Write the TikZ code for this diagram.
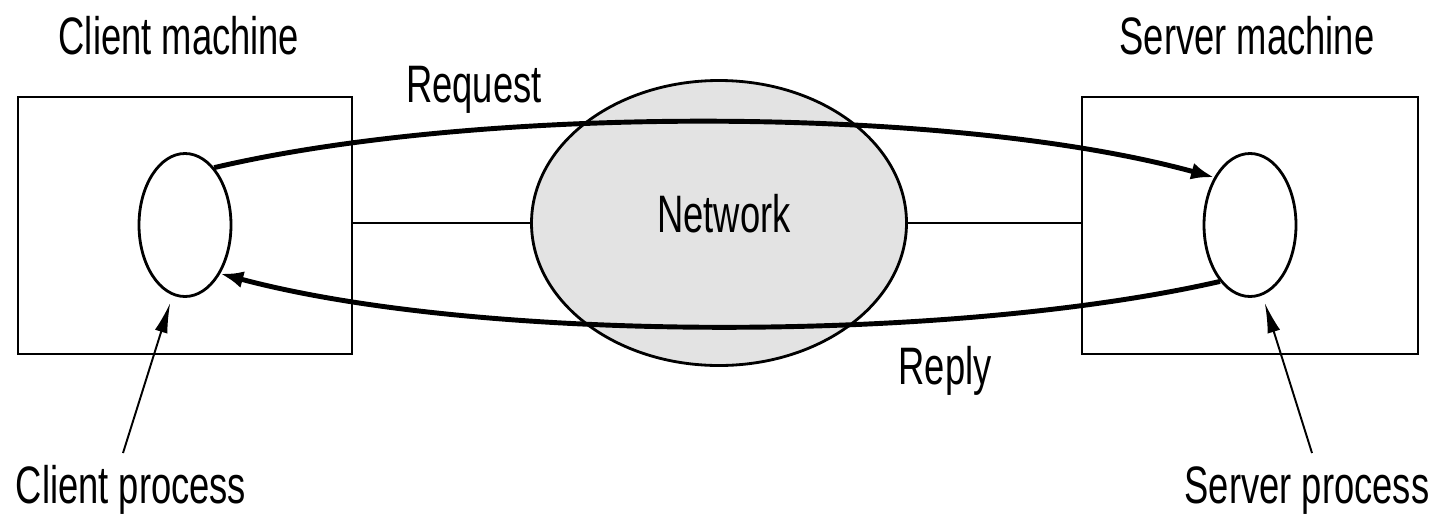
\documentclass[tikz,border=0pt]{standalone}
\usepackage{fontspec}
\setmainfont{Liberation Sans}[FakeStretch=0.69]
\usetikzlibrary{positioning,arrows.meta,shapes.geometric}
\tikzset{%
machine/.style={draw,rectangle,line width=1.6pt,inner sep=0,minimum width=#1,minimum height=51.4mm},
process/.style={draw,ellipse,line width=1.6pt,fill=white,inner sep=0,minimum width=18.4mm,minimum height=28.6mm},
netcloud/.style={draw,ellipse,line width=1.6pt,fill=black!11,inner sep=0,minimum width=75mm,minimum height=57mm},
link/.style={line width=1.6pt},
message/.style={line width=2.8pt,-{Latex[length=4.6mm,width=3.4mm]}},
pointer/.style={line width=1.1pt,-{Latex[length=6mm,width=2.6mm]},shorten >=1.6mm},
caption/.style={font=\fontsize{30}{36}\selectfont,inner sep=0,anchor=base}
}
\begin{document}
\begin{tikzpicture}[x=0.2mm,y=-0.2mm]
  \useasboundingbox (0,0) rectangle (1441,517);

    \node[machine=66.8mm] (cbox) at (185,225.5) {};
    \node[process] (cproc) at (185,225) {};

    \node[machine=67.2mm] (sbox) at (1250,225.5) {};
    \node[process] (sproc) at (1250,225) {};

    \node[netcloud] (net) at (719,223) {};
    \node[caption] (nettext) at (724,232) {Network};

    \draw[link] (net.west -| cbox.east) -- (net.west);
    \draw[link] (net.east) -- (net.east -| sbox.west);

    \draw[message] (cproc.63) .. controls (480,105) and (950,105) .. (sproc.127);
    \draw[message] (sproc.242) .. controls (950,343) and (480,343) .. (cproc.306);

    \node[caption,above=8mm of cbox,xshift=-1.2mm] (ctext) {Client machine};
    \node[caption,above=8mm of sbox,xshift=-0.6mm] (stext) {Server machine};
    \node[caption] (reqtext) at (474,102) {Request};
    \node[caption] (reptext) at (945,384) {Reply};
    \node[caption] (cptext) at (131,503) {Client process};
    \node[caption] (sptext) at (1307,503) {Server process};

    \coordinate (cptail) at (123,453);
    \coordinate (sptail) at (1312,453);
    \draw[pointer] (cptail) -- (cproc.260);
    \draw[pointer] (sptail) -- (sproc.280);

\end{tikzpicture}
\end{document}
